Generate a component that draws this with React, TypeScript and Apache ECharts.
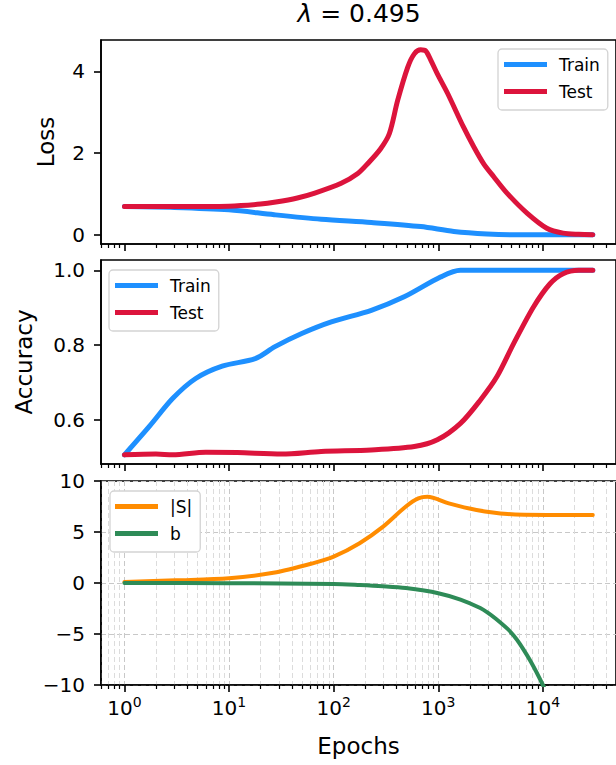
import React, { useEffect, useRef } from "react";
import * as echarts from "echarts";

const FONT = "DejaVu Sans";

// ---- data (epochs / values) ----
const trainLossEpochs = [1, 3, 10, 27, 76, 229, 680, 1410, 2930, 6000, 30000];
const trainLossValues = [0.69, 0.67, 0.61, 0.49, 0.38, 0.3, 0.2, 0.08, 0.02, 0.0, 0.0];

const testLossEpochs = [1, 3, 10, 20, 28, 45, 66, 118, 170, 213, 280, 341, 409, 510, 590, 680, 760, 850, 980, 1230, 1740, 2190, 2700, 3390, 4540, 7050, 10900, 15600, 22000, 30000];
const testLossValues = [0.69, 0.69, 0.7, 0.75, 0.8, 0.9, 1.02, 1.26, 1.5, 1.75, 2.1, 2.48, 3.29, 4.1, 4.43, 4.53, 4.5, 4.27, 3.94, 3.46, 2.64, 2.15, 1.75, 1.42, 1.02, 0.53, 0.16, 0.04, 0.01, 0.0];

const trainAccEpochs = [1, 1.73, 2.9, 4.8, 8.6, 17.8, 27.5, 49.5, 95, 229, 472, 1050, 1630, 30000];
const trainAccValues = [0.507, 0.583, 0.658, 0.711, 0.744, 0.764, 0.796, 0.831, 0.862, 0.893, 0.929, 0.982, 1.0, 1.0];

const testAccEpochs = [1, 2, 2.9, 6, 12, 32, 76, 229, 590, 980, 1630, 2520, 3640, 5250, 8130, 11700, 15600, 22000, 30000];
const testAccValues = [0.507, 0.509, 0.507, 0.514, 0.513, 0.509, 0.516, 0.52, 0.529, 0.547, 0.591, 0.653, 0.716, 0.804, 0.902, 0.964, 0.991, 1.0, 1.0];

const sEpochs = [1, 3.1, 10, 26.5, 63, 100, 177, 295, 490, 645, 790, 1260, 2320, 4600, 11000, 30000];
const sValues = [0.1, 0.26, 0.46, 1.0, 1.93, 2.58, 3.9, 5.5, 7.5, 8.3, 8.46, 7.8, 7.16, 6.76, 6.67, 6.67];

const bEpochs = [1, 10, 100, 177, 295, 490, 1000, 1630, 2520, 2990, 3550, 4600, 5250, 6000, 7700, 10000, 11000];
const bValues = [0, -0.02, -0.1, -0.2, -0.32, -0.5, -1.0, -1.63, -2.45, -2.92, -3.5, -4.5, -5.15, -5.95, -7.75, -10, -11.0];

// ---- ticks ----
const majorXTicks = [1, 10, 100, 1000, 10000];
const minorXTicks = [0.6, 0.7, 0.8, 0.9, 2, 3, 4, 5, 6, 7, 8, 9, 20, 30, 40, 50, 60, 70, 80, 90, 200, 300, 400, 500, 600, 700, 800, 900, 2000, 3000, 4000, 5000, 6000, 7000, 8000, 9000, 20000, 30000, 40000];
const lossTicks = [0, 2, 4];
const accTicks = [0.6, 0.8, 1.0];

const X_MIN = 0.597;
const X_MAX = 50000;

const pairs = (xs: number[], ys: number[]) => xs.map((x, i) => [x, ys[i]]);

const BLUE = "#1e90ff";
const RED = "#dc143c";
const ORANGE = "#ff8c00";
const GREEN = "#2e8b57";

const grids = [
  { left: 101, top: 40, width: 519, height: 204 },
  { left: 101, top: 260, width: 519, height: 204 },
  { left: 101, top: 481, width: 519, height: 204 },
];

function buildOption() {
  const xAxes: any[] = [];
  grids.forEach((_, g) => {
    const isBottom = g === 2;
    xAxes.push({
      type: "log",
      logBase: 10,
      gridIndex: g,
      min: X_MIN,
      max: X_MAX,
      position: "bottom",
      axisLine: { show: true, onZero: false, lineStyle: { color: "#000", width: 1.6 } },
      axisTick: { show: true, customValues: majorXTicks, length: 7, lineStyle: { color: "#000", width: 1.6 } },
      axisLabel: {
        show: isBottom,
        customValues: majorXTicks,
        margin: 10,
        fontSize: 20,
        fontFamily: FONT,
        color: "#000",
        formatter: (v: number) => `10{s|${Math.round(Math.log10(v))}}`,
        rich: { s: { fontSize: 14, fontFamily: FONT, color: "#000", padding: [0, 0, 12, 0] } },
      },
      splitLine: { show: isBottom, lineStyle: { color: "#c8c8c8", type: [5, 3], width: 1 } },
      name: isBottom ? "Epochs" : "",
      nameLocation: "middle",
      nameGap: 49,
      nameTextStyle: { fontSize: 23, fontFamily: FONT, color: "#000" },
    });
    xAxes.push({
      type: "log",
      logBase: 10,
      gridIndex: g,
      min: X_MIN,
      max: X_MAX,
      position: "bottom",
      axisLine: { show: false, onZero: false },
      axisTick: { show: true, customValues: minorXTicks, length: 4, lineStyle: { color: "#000", width: 1.2 } },
      axisLabel: { show: false },
      splitLine: { show: isBottom, lineStyle: { color: "#dcdcdc", type: [5, 3], width: 1 } },
    });
  });

  const yCommonLabel = { fontSize: 20, fontFamily: FONT, color: "#000", margin: 16 };
  const yAxes: any[] = [
    {
      type: "value",
      gridIndex: 0,
      min: -0.227,
      max: 4.77,
      axisLine: { show: true, lineStyle: { color: "#000", width: 1.6 } },
      axisTick: { show: true, customValues: lossTicks, length: 7, lineStyle: { color: "#000", width: 1.6 } },
      axisLabel: { ...yCommonLabel, customValues: lossTicks, formatter: (v: number) => `${Math.round(v)}` },
      splitLine: { show: false },
      name: "Loss",
      nameLocation: "middle",
      nameGap: 44,
      nameTextStyle: { fontSize: 23, fontFamily: FONT, color: "#000" },
    },
    {
      type: "value",
      gridIndex: 1,
      min: 0.4825,
      max: 1.0275,
      axisLine: { show: true, lineStyle: { color: "#000", width: 1.6 } },
      axisTick: { show: true, customValues: accTicks, length: 7, lineStyle: { color: "#000", width: 1.6 } },
      axisLabel: { ...yCommonLabel, customValues: accTicks, formatter: (v: number) => v.toFixed(1) },
      splitLine: { show: false },
      name: "Accuracy",
      nameLocation: "middle",
      nameGap: 66,
      nameTextStyle: { fontSize: 23, fontFamily: FONT, color: "#000" },
    },
    {
      type: "value",
      gridIndex: 2,
      min: -10,
      max: 10,
      interval: 5,
      axisLine: { show: true, lineStyle: { color: "#000", width: 1.6 } },
      axisTick: { show: true, length: 7, lineStyle: { color: "#000", width: 1.6 } },
      axisLabel: { ...yCommonLabel, formatter: (v: number) => `${v}`.replace("-", "\u2212") },
      splitLine: { show: true, lineStyle: { color: "#c8c8c8", type: [5, 3], width: 1 } },
    },
  ];

  const line = (name: string, color: string, width: number, xi: number, yi: number, data: number[][]) => ({
    type: "line",
    name,
    xAxisIndex: xi,
    yAxisIndex: yi,
    data,
    showSymbol: false,
    symbol: "none",
    smooth: 0.3,
    lineStyle: { color, width, cap: "round", join: "round" },
    itemStyle: { color },
    clip: true,
    z: 3,
  });

  const legendBase = {
    orient: "vertical",
    icon: "rect",
    itemWidth: 43,
    itemHeight: 5,
    itemGap: 10,
    padding: [7, 8, 10, 6],
    backgroundColor: "#fff",
    borderColor: "#d3d3d3",
    borderWidth: 1.3,
    borderRadius: 4,
    textStyle: { fontSize: 17, fontFamily: FONT, color: "#000", padding: [0, 0, 0, 7], lineHeight: 17 },
    selectedMode: false,
  };

  return {
    animation: false,
    backgroundColor: "#fff",
    title: {
      text: "{i|\u03bb} = 0.495",
      left: 359,
      top: 1,
      padding: 0,
      textAlign: "center",
      textStyle: {
        fontSize: 25,
        fontFamily: FONT,
        fontWeight: "normal",
        color: "#000",
        rich: { i: { fontSize: 25, fontFamily: FONT, fontStyle: "italic", color: "#000" } },
      },
    },
    legend: [
      { ...legendBase, data: ["Train", "Test"], left: 498, top: 49 },
      { ...legendBase, data: ["Train", "Test"], left: 109, top: 270 },
      { ...legendBase, data: ["|S|", "b"], left: 110, top: 491, padding: [7, 8, 10, 5] },
    ],
    grid: grids.map((gr) => ({ ...gr, show: true, borderColor: "#000", borderWidth: 1.6, backgroundColor: "#fff", containLabel: false })),
    xAxis: xAxes,
    yAxis: yAxes,
    series: [
      line("Train", BLUE, 5, 0, 0, pairs(trainLossEpochs, trainLossValues)),
      line("Test", RED, 5, 0, 0, pairs(testLossEpochs, testLossValues)),
      line("Train", BLUE, 5, 2, 1, pairs(trainAccEpochs, trainAccValues)),
      line("Test", RED, 5, 2, 1, pairs(testAccEpochs, testAccValues)),
      line("|S|", ORANGE, 4, 4, 2, pairs(sEpochs, sValues)),
      line("b", GREEN, 4, 4, 2, pairs(bEpochs, bValues)),
    ],
  };
}

export default function App() {
  const ref = useRef<HTMLDivElement>(null);
  useEffect(() => {
    if (!ref.current) return;
    const chart = echarts.init(ref.current, undefined, { renderer: "svg" });
    chart.setOption(buildOption() as any);
    return () => chart.dispose();
  }, []);
  return (
    <div
      ref={ref}
      style={{ position: "absolute", left: 0, top: 0, width: 616, height: 765, background: "#fff" }}
    />
  );
}
